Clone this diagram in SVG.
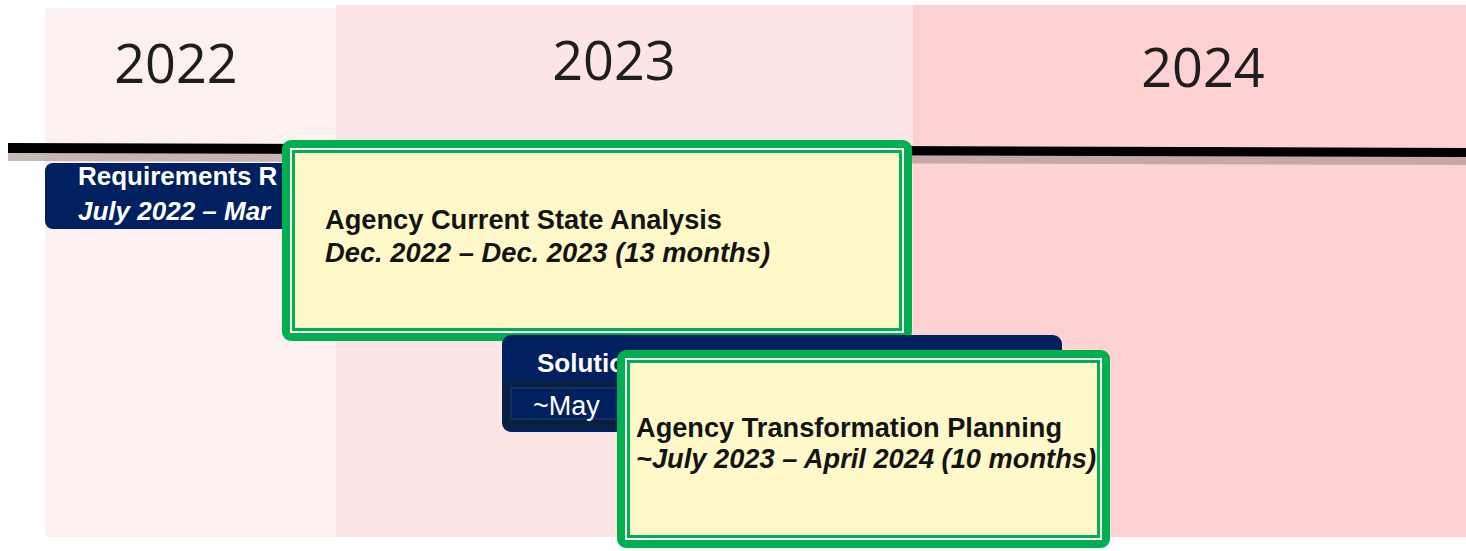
<svg xmlns="http://www.w3.org/2000/svg" width="1466" height="551" viewBox="0 0 1466 551">
<style>
.year{font-family:"Open Sans","Liberation Sans",sans-serif;font-size:54px;fill:#1e1e1e;text-anchor:middle}
.navyT{font-family:"Liberation Sans",Arial,sans-serif;font-size:26px;font-weight:bold;fill:#ffffff}
.navyI{font-family:"Liberation Sans",Arial,sans-serif;font-size:26px;font-weight:bold;font-style:italic;fill:#ffffff}
.t1{font-family:"Liberation Sans",Arial,sans-serif;font-size:27px;font-weight:bold;fill:#141414}
.t2{font-family:"Liberation Sans",Arial,sans-serif;font-size:27px;font-weight:bold;font-style:italic;fill:#141414}
.navy{fill:#002060}
.gOuter{fill:#fff9c9;stroke:#00b050;stroke-width:8}
.gGap{fill:none;stroke:#ffffff;stroke-width:2}
.gInner{fill:none;stroke:#00b050;stroke-width:3}
</style>
<rect width="1466" height="551" fill="#ffffff"/>
<g id="bands">
<rect x="45" y="8" width="291" height="529" fill="#fdf0f0"/>
<rect x="336" y="5" width="577" height="532" fill="#fde5e5"/>
<rect x="913" y="5" width="553" height="532" fill="#fed2d3"/>
<text class="year" x="176" y="83">2022</text>
<text class="year" x="614" y="80">2023</text>
<text class="year" x="1203" y="87">2024</text>
</g>
<g id="connectors">
<polygon points="8,153 1466,157 1466,165 8,161" fill="#a48a8a" opacity="0.6"/>
<polygon points="8,143 1466,148 1466,157 8,153" fill="#000000"/>
</g>
<g id="requirements">
<rect class="navy" x="45" y="163" width="260" height="66" rx="8"/>
<text class="navyT" x="78" y="185">Requirements R</text>
<text class="navyI" x="78" y="220">July 2022 – Mar</text>
</g>
<g id="current-state">
<rect class="gOuter" x="286" y="144" width="622" height="193" rx="5"/>
<rect class="gGap" x="291" y="149" width="612" height="183"/>
<rect class="gInner" x="293.5" y="151.5" width="607" height="178"/>
<text class="t1" x="325" y="229" textLength="397" lengthAdjust="spacingAndGlyphs">Agency Current State Analysis</text>
<text class="t2" x="325" y="262" textLength="445" lengthAdjust="spacingAndGlyphs">Dec. 2022 – Dec. 2023 (13 months)</text>
</g>
<g id="solution">
<rect class="navy" x="502" y="335" width="560" height="97" rx="9"/>
<rect x="503" y="381" width="130" height="47" rx="6" fill="#0a2040"/>
<rect x="511" y="388" width="120" height="31" fill="#002060" stroke="#14305e" stroke-width="2"/>
<text class="navyT" x="537" y="372">Solution</text>
<text x="533" y="415" font-family="'Liberation Sans',Arial,sans-serif" font-size="27" fill="#ffffff">~May</text>
</g>
<g id="transformation">
<rect class="gOuter" x="621" y="354" width="485" height="190" rx="5"/>
<rect class="gGap" x="626" y="359" width="475" height="180"/>
<rect class="gInner" x="628.5" y="361.5" width="470" height="175"/>
<text class="t1" x="636" y="437" textLength="426" lengthAdjust="spacingAndGlyphs">Agency Transformation Planning</text>
<text class="t2" x="636" y="468" textLength="460" lengthAdjust="spacingAndGlyphs">~July 2023 – April 2024 (10 months)</text>
</g>
</svg>
